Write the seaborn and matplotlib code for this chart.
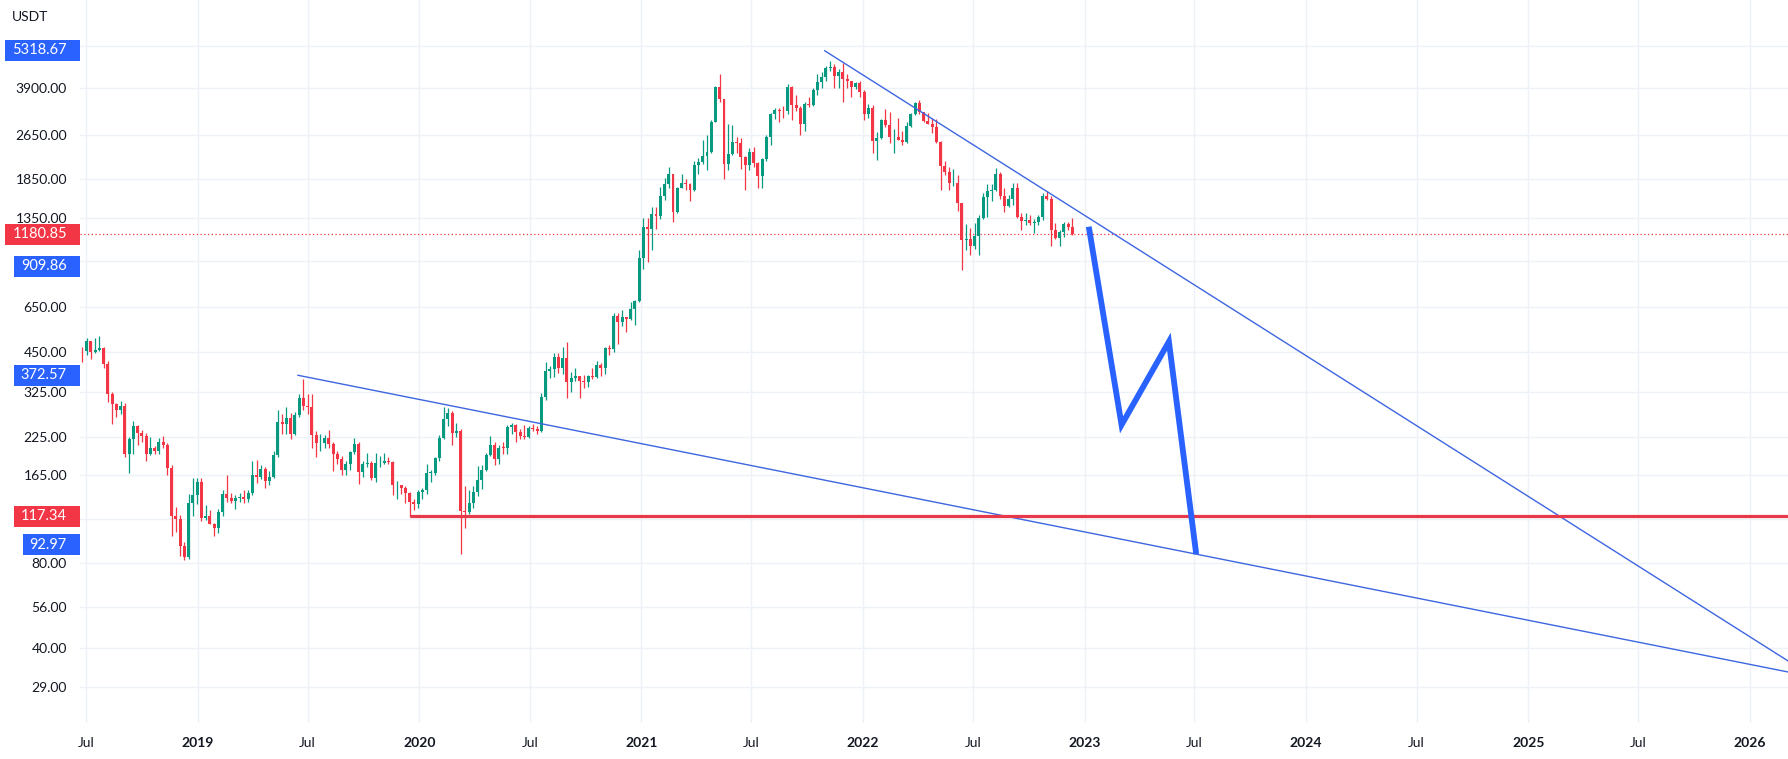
import numpy as np
import pandas as pd
import matplotlib
matplotlib.use("Agg")
import matplotlib.pyplot as plt
import matplotlib.dates as mdates
from matplotlib.patches import Rectangle
from matplotlib.transforms import IdentityTransform
from matplotlib.ticker import FixedLocator, NullLocator
import seaborn as sns

# ---------------- data (weekly ETH/USDT candles) ----------------
first_week = "2018-06-25"

opens = [455, 453, 491, 449, 459, 467, 408, 318, 293, 280, 290, 196, 221, 245, 232, 226, 195, 205, 201, 215,
         210, 174, 118, 115, 92, 84, 131, 140,
         155, 116, 118, 110, 107, 122, 141, 136, 133, 136, 137, 135, 142, 164, 162, 173, 157, 162, 194, 254,
         250, 262, 230, 269, 308, 290, 288, 228, 213, 213, 222, 212, 195, 187, 171, 180, 198, 212, 169, 180,
         182, 160, 181, 182, 185, 183, 151, 151, 148, 142, 132, 130,
         143, 146, 167, 167, 189, 223, 261, 274, 232, 235, 123, 122, 131, 143, 158, 172, 194, 210, 187, 206,
         205, 244, 247, 233, 227, 225, 241, 239, 236, 312, 386, 393, 433, 395, 428, 353, 365, 370, 354, 352,
         371, 368, 406, 396, 464, 460, 604, 575, 598, 590, 639, 685,
         975, 1257, 1230, 1390, 1370, 1610, 1780, 1935, 1416, 1725, 1790, 1780, 1690, 2080, 2135, 2240, 2310,
         2950, 3940, 3580, 2100, 2270, 2510, 2500, 2230, 2080, 2320, 2110, 1895, 2190, 2610, 3160, 3270, 3240,
         3230, 3940, 3400, 3330, 2920, 3420, 3410, 3850, 4100, 4290, 4610, 4630, 4300, 4440, 4200, 4130, 3940,
         4060,
         3770, 3150, 3330, 2530, 2600, 3010, 2880, 2610, 2620, 2560, 2520, 2860, 3150, 3450, 3200, 2990, 2920,
         2830, 2520, 2060, 1970, 1790, 1800, 1530, 1125, 1140, 1070, 1165, 1350, 1600, 1680, 1700, 1940, 1610,
         1490, 1580, 1720, 1360, 1320, 1330, 1290, 1300, 1360, 1620, 1570, 1220, 1145, 1200, 1280, 1255]

highs = [470, 505, 492, 505, 515, 470, 418, 325, 297, 302, 297, 225, 255, 247, 237, 232, 225, 208, 222, 226,
         213, 178, 127, 119, 95, 141, 160, 160,
         160, 129, 124, 111, 125, 145, 165, 142, 140, 142, 145, 145, 185, 186, 178, 175, 170, 200, 280, 270,
         287, 274, 275, 318, 362, 320, 318, 235, 230, 229, 237, 215, 200, 192, 184, 200, 223, 215, 185, 197,
         184, 197, 192, 197, 190, 184, 157, 152, 150, 143, 135, 145,
         148, 180, 172, 190, 229, 288, 285, 278, 252, 240, 150, 145, 150, 177, 179, 197, 227, 215, 210, 215,
         247, 252, 250, 240, 248, 245, 250, 245, 322, 415, 400, 445, 445, 470, 488, 382, 396, 371, 372, 374,
         395, 420, 413, 470, 475, 620, 622, 635, 600, 680, 690, 1040,
         1350, 1350, 1475, 1476, 1735, 1875, 2040, 1940, 1740, 1940, 1860, 1800, 2145, 2200, 2550, 2650, 3000,
         3980, 4372, 3580, 2900, 2890, 2620, 2600, 2240, 2400, 2410, 2130, 2200, 2650, 3180, 3330, 3330, 3380,
         4030, 3970, 3680, 3370, 3480, 3630, 3900, 4375, 4460, 4665, 4868, 4770, 4550, 4780, 4400, 4150, 4120,
         4130,
         3840, 3420, 3400, 2730, 3040, 3285, 3200, 2800, 3050, 2750, 2950, 3190, 3500, 3550, 3200, 3190, 3050,
         3030, 2530, 2150, 2050, 2020, 1920, 1530, 1280, 1240, 1290, 1380, 1650, 1780, 1780, 2030, 1960, 1720,
         1630, 1790, 1790, 1400, 1400, 1380, 1340, 1380, 1660, 1680, 1610, 1290, 1220, 1310, 1300, 1350]

lows = [415, 440, 425, 445, 455, 395, 300, 250, 264, 272, 190, 167, 195, 210, 215, 185, 193, 196, 195, 205,
        165, 100, 103, 85, 82, 83, 118, 130,
        113, 114, 110, 100, 102, 118, 132, 131, 125, 132, 131, 132, 140, 154, 159, 148, 151, 160, 190, 230,
        230, 220, 228, 265, 280, 270, 205, 190, 200, 205, 205, 170, 180, 165, 165, 172, 195, 153, 162, 175,
        158, 155, 175, 180, 180, 140, 135, 141, 131, 117, 124, 126,
        135, 141, 155, 165, 185, 220, 245, 210, 225, 86, 107, 120, 126, 139, 147, 170, 192, 178, 180, 195,
        195, 230, 215, 220, 220, 223, 236, 230, 233, 305, 363, 368, 378, 375, 310, 325, 355, 308, 336, 338,
        361, 365, 370, 375, 440, 450, 480, 555, 530, 585, 560, 680,
        890, 940, 1040, 1230, 1340, 1560, 1730, 1300, 1400, 1720, 1700, 1550, 1680, 1930, 2100, 2000, 2300,
        2950, 3500, 1850, 2000, 2260, 2300, 2020, 1700, 2000, 2050, 1720, 1720, 2150, 2450, 3030, 2950, 3070,
        3160, 3000, 3250, 2650, 2740, 3350, 3360, 3680, 3900, 4150, 4500, 3900, 3900, 3500, 3900, 3640, 3890,
        3630,
        3000, 3070, 2300, 2160, 2580, 2830, 2500, 2300, 2550, 2450, 2500, 2850, 3130, 3150, 2950, 2900, 2700,
        2500, 1700, 1910, 1700, 1750, 1430, 880, 1040, 1000, 1050, 1000, 1340, 1360, 1550, 1680, 1570, 1420,
        1470, 1500, 1350, 1220, 1270, 1270, 1190, 1270, 1330, 1560, 1075, 1140, 1075, 1150, 1225, 1170]

closes = [453, 491, 449, 459, 467, 408, 318, 293, 280, 290, 196, 221, 245, 232, 226, 195, 205, 201, 215, 210,
          174, 118, 115, 92, 84, 131, 140, 155,
          116, 118, 110, 107, 122, 141, 136, 133, 136, 137, 135, 142, 164, 162, 173, 157, 162, 194, 254, 250,
          262, 230, 269, 308, 290, 288, 228, 213, 213, 222, 212, 195, 187, 171, 180, 198, 212, 169, 180, 182,
          160, 181, 182, 185, 183, 151, 151, 148, 142, 132, 130, 143,
          146, 167, 167, 189, 223, 261, 274, 232, 235, 123, 122, 131, 143, 158, 172, 194, 210, 187, 206, 205,
          244, 247, 233, 227, 225, 241, 239, 236, 312, 386, 393, 433, 395, 428, 353, 365, 370, 354, 352, 371,
          368, 406, 396, 464, 460, 604, 575, 598, 590, 639, 685, 975,
          1257, 1230, 1390, 1370, 1610, 1780, 1935, 1416, 1725, 1790, 1780, 1690, 2080, 2135, 2240, 2310, 2950,
          3940, 3580, 2100, 2270, 2510, 2500, 2230, 2080, 2320, 2110, 1895, 2190, 2610, 3160, 3270, 3240, 3230,
          3940, 3400, 3330, 2920, 3420, 3410, 3850, 4100, 4290, 4610, 4630, 4300, 4440, 4200, 4130, 3940, 4060,
          3770,
          3150, 3330, 2530, 2600, 3010, 2880, 2610, 2620, 2560, 2520, 2860, 3150, 3450, 3200, 2990, 2920, 2830,
          2520, 2060, 1970, 1790, 1800, 1530, 1125, 1140, 1070, 1165, 1350, 1600, 1680, 1700, 1940, 1610, 1490,
          1580, 1720, 1360, 1320, 1330, 1290, 1300, 1360, 1620, 1570, 1220, 1145, 1200, 1280, 1255, 1180.85]

price_ticks = [5500, 3900, 2650, 1850, 1350, 950, 650, 450, 325, 225, 165, 115, 80, 56, 40, 29]
price_tick_labels = ["", "3900.00", "2650.00", "1850.00", "1350.00", "", "650.00", "450.00", "325.00",
                     "225.00", "165.00", "", "80.00", "56.00", "40.00", "29.00"]

time_ticks = ["2018-07-01", "2019-01-01", "2019-07-01", "2020-01-01", "2020-07-01", "2021-01-01",
              "2021-07-01", "2022-01-01", "2022-07-01", "2023-01-01", "2023-07-01", "2024-01-01",
              "2024-07-01", "2025-01-01", "2025-07-01", "2026-01-01"]
time_tick_labels = ["Jul", "2019", "Jul", "2020", "Jul", "2021", "Jul", "2022", "Jul", "2023", "Jul",
                    "2024", "Jul", "2025", "Jul", "2026"]

upper_line_dates = ["2021-10-29", "2023-05-13"]
upper_line_prices = [5318.67, 909.86]
lower_line_dates = ["2019-06-14", "2023-04-17"]
lower_line_prices = [372.57, 92.97]
support_date = "2019-12-16"
support_price = 117.34
current_price = 1180.85
zigzag_dates = ["2023-01-08", "2023-03-03", "2023-05-20", "2023-07-04"]
zigzag_prices = [1256, 248, 490, 86.1]

badge_values = [5318.67, 1180.85, 909.86, 372.57, 117.34, 92.97]
badge_kinds = ["blue", "red", "blue", "blue", "red", "blue"]

x_range = ["2018-06-21", "2026-03-05"]
y_range = [21.6, 8035]

# ---------------- styling ----------------
UP = "#089981"
DOWN = "#F23645"
BLUE = "#2962FF"
THIN_BLUE = "#3d66e0"
TEXT = "#131722"
GRID = "#eef1f6"

sns.set_theme(style="white")
plt.rcParams["font.family"] = ["Lato", "DejaVu Sans"]

W, H = 1788, 759
fig = plt.figure(figsize=(W / 100, H / 100), dpi=100)
ax = fig.add_axes([80 / W, 36 / H, (W - 80) / W, 723 / H])
ax.set_facecolor("white")

n = len(closes)
assert len(opens) == len(highs) == len(lows) == n
dates = pd.date_range(first_week, periods=n, freq="7D")
xd = mdates.date2num(dates.to_pydatetime())
o = np.array(opens, float)
h = np.array(highs, float)
l = np.array(lows, float)
c = np.array(closes, float)
up = c >= o
cols = np.where(up, UP, DOWN)

ax.set_yscale("log")

# wicks
ax.vlines(xd, l, h, colors=cols, linewidth=0.9, zorder=3)
# bodies
body_bottom = np.minimum(o, c)
body_top = np.maximum(o, c)
body_top = np.maximum(body_top, body_bottom * 1.006)
ax.bar(xd, body_top - body_bottom, bottom=body_bottom, width=4.9, color=cols,
       edgecolor="none", linewidth=0, zorder=4)

x0 = mdates.date2num(pd.Timestamp(x_range[0]))
x1 = mdates.date2num(pd.Timestamp(x_range[1]))


def ray(dates_, prices_):
    xa, xb = mdates.date2num(pd.to_datetime(dates_).to_pydatetime())
    la, lb = np.log10(prices_)
    slope = (lb - la) / (xb - xa)
    xe = x1 + 5
    return [xa, xe], [10 ** la, 10 ** (la + slope * (xe - xa))]


ux, uy = ray(upper_line_dates, upper_line_prices)
lx, ly = ray(lower_line_dates, lower_line_prices)
ax.plot(ux, uy, color=THIN_BLUE, lw=1.0, zorder=5, solid_capstyle="butt")
ax.plot(lx, ly, color=THIN_BLUE, lw=1.0, zorder=5, solid_capstyle="butt")

# support horizontal line
sx = mdates.date2num(pd.Timestamp(support_date))
ax.plot([sx, x1 + 5], [support_price, support_price], color="#e8394b", lw=2.3, zorder=5,
        solid_capstyle="butt")

# current price dotted line
ax.axhline(current_price, color=DOWN, lw=0.9, ls=(0, (1, 2)), zorder=2)

# zigzag projection (seaborn)
zz = pd.DataFrame({"x": mdates.date2num(pd.to_datetime(zigzag_dates).to_pydatetime()),
                   "y": zigzag_prices})
sns.lineplot(data=zz, x="x", y="y", sort=False, estimator=None, color=BLUE, lw=4.2, ax=ax,
             zorder=6)
for ln in ax.lines[-1:]:
    ln.set_solid_joinstyle("miter")
    ln.set_solid_capstyle("butt")

# axes limits & ticks
ax.set_xlim(x0, x1)
ax.set_ylim(*y_range)
ax.yaxis.set_major_locator(FixedLocator(price_ticks))
ax.yaxis.set_minor_locator(NullLocator())
ax.set_yticklabels(price_tick_labels)
tx = mdates.date2num(pd.to_datetime(time_ticks).to_pydatetime())
ax.xaxis.set_major_locator(FixedLocator(tx))
ax.xaxis.set_minor_locator(NullLocator())
ax.set_xticklabels(time_tick_labels)
for lab in ax.get_xticklabels():
    if lab.get_text() != "Jul":
        lab.set_fontweight("bold")
ax.tick_params(axis="y", length=0, pad=9.3, labelsize=10, labelcolor=TEXT)
ax.tick_params(axis="x", length=0, pad=10, labelsize=10, labelcolor=TEXT)
ax.set_xlabel("")
ax.set_ylabel("")
ax.grid(True, color=GRID, lw=1.0, zorder=0)
ax.set_axisbelow(True)
for sp in ax.spines.values():
    sp.set_visible(False)

fig.text(12 / W, 1 - 17 / H, "USDT", ha="left", va="center", fontsize=10, color=TEXT)

# price badges on the scale
fig.canvas.draw()
badge_texts = []
for v, kind in zip(badge_values, badge_kinds):
    yd = ax.transData.transform((x0, v))[1]
    t = fig.text(67 / W, yd / H, f"{v:.2f}", ha="right", va="center", fontsize=10.5,
                 color="white", zorder=8)
    badge_texts.append((t, yd, kind))
fig.canvas.draw()
for t, yd, kind in badge_texts:
    bb = t.get_window_extent()
    left = bb.x0 - 7
    rect = Rectangle((left, yd - 10.5), 80 - left, 21, transform=IdentityTransform(),
                     facecolor=BLUE if kind == "blue" else DOWN, edgecolor="none", zorder=7)
    fig.add_artist(rect)

fig.savefig("out.png", dpi=100)
